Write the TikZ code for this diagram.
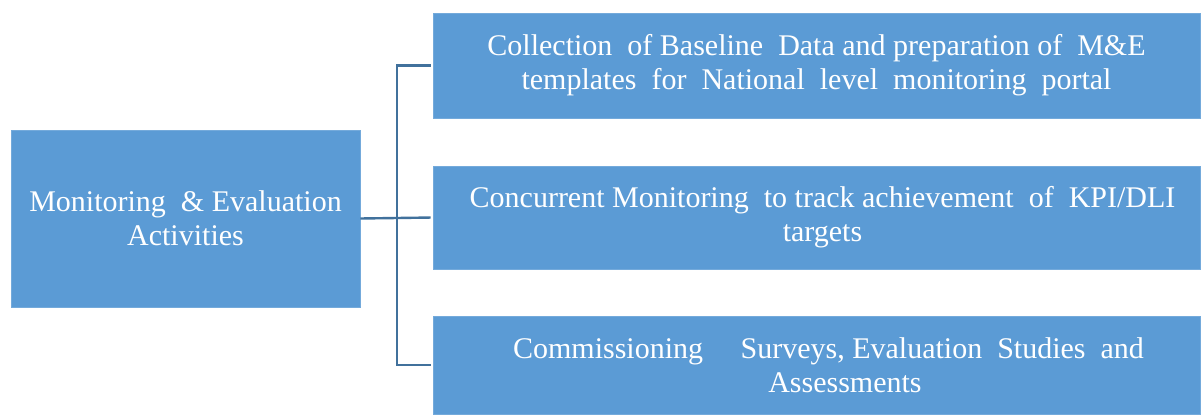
\documentclass[tikz,border=0pt]{standalone}
\usepackage{fontspec}
\setmainfont{Liberation Serif}
\usepackage{tikz}
\definecolor{boxBlue}{HTML}{5B9BD5}
\definecolor{lineBlue}{HTML}{41719C}
\newcommand\boxColor{boxBlue}
\newcommand\linkColor{lineBlue}
\newcommand\linkLineWidth{2.4pt}
\newcommand\rightWidth{767pt}
\tikzset{
    mebox/.style={fill=\boxColor, draw=\boxColor!85!white, line width=0.6pt, text=white, align=center,
        font=\fontsize{30}{34}\selectfont, inner sep=0pt, anchor=center},
    melink/.style={draw=\linkColor, line width=\linkLineWidth}
}

\begin{document}
\begin{tikzpicture}[x=1pt,y=-1pt]

    \useasboundingbox (0,0) rectangle (1202,415);

    \node (Main_Box) [mebox, minimum width=349pt, minimum height=177pt] at (185.5,218.5) {Monitoring \ \& Evaluation\\Activities};

    \node (Right_Box_1) [mebox, minimum width=\rightWidth, minimum height=105pt] at (816.5,65.5) {Collection \ of Baseline \ Data and preparation of \ M\&E\\templates \ for \ National \ level \ monitoring \ portal};
    \node (Right_Box_2) [mebox, minimum width=\rightWidth, minimum height=103pt] at (816.5,217.5) {\hspace{12pt}Concurrent Monitoring \ to track achievement \ of \ KPI/DLI\\\hspace{12pt}targets};
    \node (Right_Box_3) [mebox, minimum width=\rightWidth, minimum height=98pt] at (816.5,365) {\hspace{24pt}Commissioning \quad Surveys, Evaluation \ Studies \ and\\\hspace{57pt}Assessments};

    \coordinate (Trunk) at (397,218);

%    links
    \draw [melink] (Main_Box.east) -- (Trunk);
    \draw [melink, shorten <=2pt] (Right_Box_1.west) -| (Trunk);
    \draw [melink, shorten <=2pt] (Right_Box_2.west) -- (Trunk);
    \draw [melink, shorten <=2pt] (Right_Box_3.west) -| (Trunk);

\end{tikzpicture}
\end{document}
